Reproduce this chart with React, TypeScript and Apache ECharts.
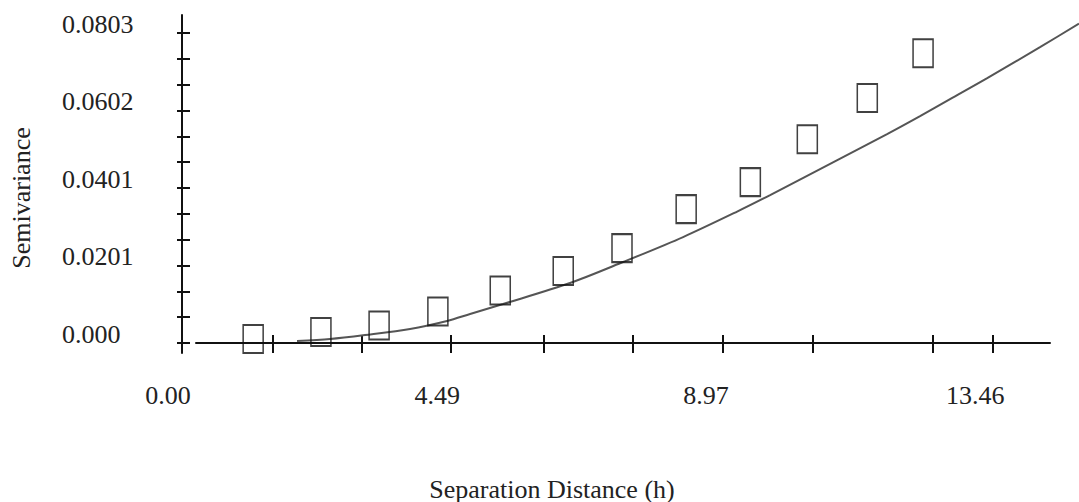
import React, { useEffect, useRef } from "react";
import * as echarts from "echarts";

// Experimental semivariance (squares)
const lagX = [1.42, 2.55, 3.52, 4.5, 5.54, 6.59, 7.57, 8.64, 9.71, 10.66, 11.66, 12.59];
const semivar = [0.00104, 0.00285, 0.00453, 0.00816, 0.0136, 0.01865, 0.0246, 0.0347, 0.0417, 0.0528, 0.0635, 0.0751];

// Fitted model curve
const modelX = [2.151, 2.702, 3.285, 4.036, 4.653, 5.037, 5.587, 6.704, 7.588, 8.589, 9.49, 10.04, 11.16, 11.99, 12.54, 13.04, 13.66, 14.54, 15.19];
const modelY = [0.00052, 0.00104, 0.00207, 0.00363, 0.0057, 0.00751, 0.0101, 0.01554, 0.02098, 0.02746, 0.03406, 0.03834, 0.0474, 0.05414, 0.0588, 0.0632, 0.06864, 0.07667, 0.08276];

// Axis ticks and labels
const xLabelValues = [0, 4.49, 8.97, 13.46];
const xTickValues = [1.751, 3.235, 4.72, 6.271, 7.755, 9.256, 10.757, 12.758, 13.759];
const yLabelValues = [0, 0.0201, 0.0401, 0.0602, 0.0803];
const yTickValues = [0, 1, 2, 3, 4, 5, 6, 7, 8, 9, 10, 11, 12].map((k) => (k * 0.0803) / 12);

const FONT = "'Liberation Serif', 'DejaVu Serif', serif";
const FS = 26;
const TXT = "#222";
const AX = "#111";

export default function App() {
  const ref = useRef<HTMLDivElement>(null);
  useEffect(() => {
    if (!ref.current) return;
    const chart = echarts.init(ref.current, undefined, { renderer: "svg" });
    const yMin = -0.00259;
    const yMax = 0.085;
    const option: any = {
      animation: false,
      backgroundColor: "#fff",
      grid: [
        { left: 168, right: 0, top: 15, bottom: 149 },
        { left: 196, right: 29, top: 15, bottom: 159 },
      ],
      xAxis: [
        {
          type: "value",
          gridIndex: 0,
          min: 0,
          max: 15.19,
          position: "bottom",
          axisLine: { show: false, onZero: false },
          axisTick: { show: false },
          splitLine: { show: false },
          axisLabel: {
            customValues: xLabelValues,
            formatter: (v: number) => v.toFixed(2),
            fontFamily: FONT,
            fontSize: FS,
            color: TXT,
            margin: 42,
            verticalAlign: "middle",
            lineHeight: 26,
          },
        },
        {
          type: "value",
          gridIndex: 1,
          min: 0.467,
          max: 14.71,
          position: "bottom",
          axisLine: { show: true, onZero: false, lineStyle: { color: AX, width: 2 } },
          axisTick: { show: true, inside: false, length: 10, customValues: xTickValues, lineStyle: { color: AX, width: 2 } },
          axisLabel: { show: false },
          splitLine: { show: false },
        },
        {
          type: "value",
          gridIndex: 1,
          min: 0.467,
          max: 14.71,
          position: "bottom",
          axisLine: { show: false, onZero: false },
          axisTick: { show: true, inside: true, length: 8, customValues: xTickValues, lineStyle: { color: AX, width: 2 } },
          axisLabel: { show: false },
          splitLine: { show: false },
        },
      ],
      yAxis: [
        {
          type: "value",
          gridIndex: 0,
          min: yMin,
          max: yMax,
          position: "left",
          offset: -14,
          axisLine: { show: true, onZero: false, lineStyle: { color: AX, width: 2 } },
          axisTick: { show: true, inside: false, length: 5, customValues: yTickValues, lineStyle: { color: AX, width: 2 } },
          splitLine: { show: false },
          axisLabel: {
            customValues: yLabelValues,
            formatter: (v: number) => (v === 0 ? "0.000" : v.toFixed(4)),
            fontFamily: FONT,
            fontSize: FS,
            color: TXT,
            align: "left",
            margin: 120,
            verticalAlign: "bottom",
            lineHeight: 18,
          },
        },
        {
          type: "value",
          gridIndex: 0,
          min: yMin,
          max: yMax,
          position: "left",
          offset: -14,
          axisLine: { show: false, onZero: false },
          axisTick: { show: true, inside: true, length: 8, customValues: yTickValues, lineStyle: { color: AX, width: 2 } },
          axisLabel: { show: false },
          splitLine: { show: false },
        },
        {
          type: "value",
          gridIndex: 1,
          min: 0,
          max: 1,
          show: false,
          splitLine: { show: false },
        },
      ],
      graphic: [
        {
          type: "text",
          x: 21,
          y: 198,
          rotation: Math.PI / 2,
          style: {
            text: "Semivariance",
            fontFamily: FONT,
            fontSize: FS,
            fill: TXT,
            align: "center",
            verticalAlign: "middle",
          },
        },
        {
          type: "text",
          x: 552,
          y: 489,
          style: {
            text: "Separation Distance (h)",
            fontFamily: FONT,
            fontSize: FS,
            fill: TXT,
            align: "center",
            verticalAlign: "middle",
          },
        },
      ],
      series: [
        {
          type: "line",
          xAxisIndex: 0,
          yAxisIndex: 0,
          data: modelX.map((x, i) => [x, modelY[i]]),
          smooth: 0.3,
          showSymbol: false,
          symbol: "none",
          lineStyle: { color: "#555", width: 2 },
          clip: true,
          z: 2,
        },
        {
          type: "scatter",
          xAxisIndex: 0,
          yAxisIndex: 0,
          data: lagX.map((x, i) => [x, semivar[i]]),
          symbol: "rect",
          symbolSize: [20, 28],
          itemStyle: { color: "rgba(255,255,255,0)", borderColor: "#111", borderWidth: 1.8 },
          z: 3,
        },
      ],
    };
    chart.setOption(option);
    return () => chart.dispose();
  }, []);
  return (
    <div
      ref={ref}
      style={{ position: "fixed", left: 0, top: 0, width: 1079, height: 502, background: "#fff" }}
    />
  );
}
